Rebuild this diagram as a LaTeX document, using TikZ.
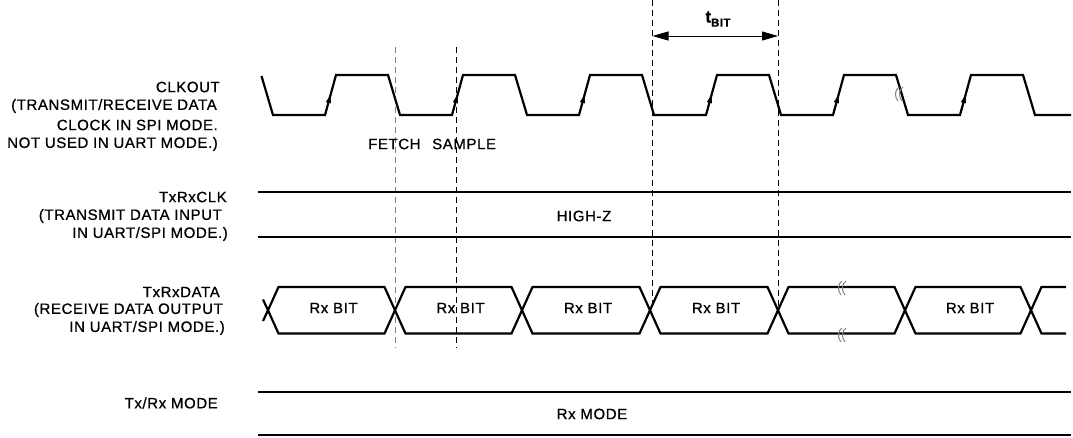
\documentclass[tikz,border=0pt]{standalone}
\usepackage{fontspec}
\setmainfont{Liberation Sans}[LetterSpace=4,FakeBold=0.8]
\usetikzlibrary{arrows.meta}
\begin{document}
\begin{tikzpicture}[x=1pt,y=-1pt,
  sig/.style={line width=2.2pt,line join=miter},
  level/.style={line width=2pt},
  guide/.style={line width=0.9pt,dash pattern=on 6pt off 4pt},
  lbl/.style={font=\fontsize{15}{16}\selectfont,inner sep=0pt,anchor=east},
  txt/.style={font=\fontsize{15}{16}\selectfont,inner sep=0pt},
  brk/.style={draw=gray,line width=1pt},
  edgearrow/.style={-{Triangle[length=8pt,width=5pt]},line width=1pt}]
\useasboundingbox (0,0) rectangle (1073,437);

% ---------- labels ----------
\node[lbl] (clk1) at (220,87) {CLKOUT};
\node[lbl] (clk2) at (217,106) {(TRANSMIT/RECEIVE DATA};
\node[lbl] (clk3) at (218,125) {CLOCK IN SPI MODE.};
\node[lbl] (clk4) at (218,144) {NOT USED IN UART MODE.)};
\node[lbl] (tck1) at (227,197) {TxRxCLK};
\node[lbl] (tck2) at (222,216) {(TRANSMIT DATA INPUT};
\node[lbl] (tck3) at (228,234) {IN UART/SPI MODE.)};
\node[lbl] (dat1) at (220,292) {TxRxDATA};
\node[lbl] (dat2) at (223,310) {(RECEIVE DATA OUTPUT};
\node[lbl] (dat3) at (225,328) {IN UART/SPI MODE.)};
\node[lbl] (mode) at (218,403) {Tx/Rx MODE};

% ---------- dashed guides ----------
\coordinate (g1t) at (395.5,47);  \coordinate (g1b) at (395.5,348);
\coordinate (g2t) at (456.5,47);  \coordinate (g2b) at (456.5,348);
\coordinate (g3t) at (652,0);     \coordinate (g3b) at (652,310);
\coordinate (g4t) at (778.5,0);   \coordinate (g4b) at (778.5,310);
\draw[guide,gray] (g1t) -- (g1b);
\draw[guide] (g2t) -- (g2b);
\draw[guide] (g3t) -- (g3b);
\draw[guide] (g4t) -- (g4b);

% ---------- tBIT ----------
\coordinate (ta) at (652.5,36);
\coordinate (tb) at (778,36);
\draw[{Triangle[length=16pt,width=9pt]}-{Triangle[length=16pt,width=9pt]},line width=0.9pt] (ta) -- (tb);
\node[inner sep=0pt] (tbit) at (718,19) {\fontsize{17}{17}\selectfont\bfseries t\raisebox{-0.45ex}{\fontsize{11.5}{11.5}\selectfont BIT}};

% ---------- CLKOUT ----------
\draw[sig] (261.5,76) -- (273,115)
  \foreach \F in {273,400,527,654,781,908}{ -- (\F+52,115) -- (\F+63,75) -- (\F+115,75) -- (\F+127,115)}
  -- (1071,115);
\foreach \F in {273,400,527,654,781,908}{
  \draw[edgearrow] (\F+52,115) -- (\F+57.5,95);
}
% break mark on clock
\foreach \dx in {0,4}{
  \draw[brk] (899+\dx,87) .. controls (895+\dx,89) and (894+\dx,97) .. (898+\dx,101);
}

\node[txt,anchor=west] (fetch) at (368,144) {FETCH};
\node[txt,anchor=west] (sample) at (432,144) {SAMPLE};

% ---------- TxRxCLK ----------
\coordinate (c1a) at (258,191.5); \coordinate (c1b) at (1071,191.5);
\coordinate (c2a) at (258,236.5); \coordinate (c2b) at (1071,236.5);
\draw[level] (c1a) -- (c1b);
\draw[level] (c2a) -- (c2b);
\node[txt] (hiz) at (584,216) {HIGH-Z};

% ---------- TxRxDATA ----------
\def\h{10.5}
\def\yt{287}
\def\yb{333.5}
\def\ym{310.25}
\foreach \a/\b in {268/395,395/522,522/650,650/778,778/905,905/1031}{
  \draw[sig] (\a,\ym) -- (\a+\h,\yt) -- (\b-\h,\yt) -- (\b,\ym) -- (\b-\h,\yb) -- (\a+\h,\yb) -- cycle;
}
\draw[sig] (263,299.5) -- (268,\ym) -- (263,321);
\draw[sig] (1066,\yt) -- (1031+\h,\yt) -- (1031,\ym) -- (1031+\h,\yb) -- (1066,\yb);
\foreach \a/\b/\n in {268/395/b0,395/522/b1,522/650/b2,650/778/b3,905/1031/b5}{
  \node[txt] (\n) at ({(\a+\b)/2+2},308) {Rx BIT};
}
% break marks on data bus
\foreach \dx in {0,4}{
  \draw[brk] (842+\dx,281) .. controls (838+\dx,283) and (837+\dx,291) .. (841+\dx,295);
  \draw[brk] (842+\dx,328) .. controls (838+\dx,330) and (837+\dx,338) .. (841+\dx,342);
}

% ---------- Tx/Rx MODE ----------
\coordinate (m1a) at (258,392); \coordinate (m1b) at (1071,392);
\coordinate (m2a) at (258,435); \coordinate (m2b) at (1071,435);
\draw[level] (m1a) -- (m1b);
\draw[level] (m2a) -- (m2b);
\node[txt] (rxmode) at (592,414) {Rx MODE};
\end{tikzpicture}
\end{document}
